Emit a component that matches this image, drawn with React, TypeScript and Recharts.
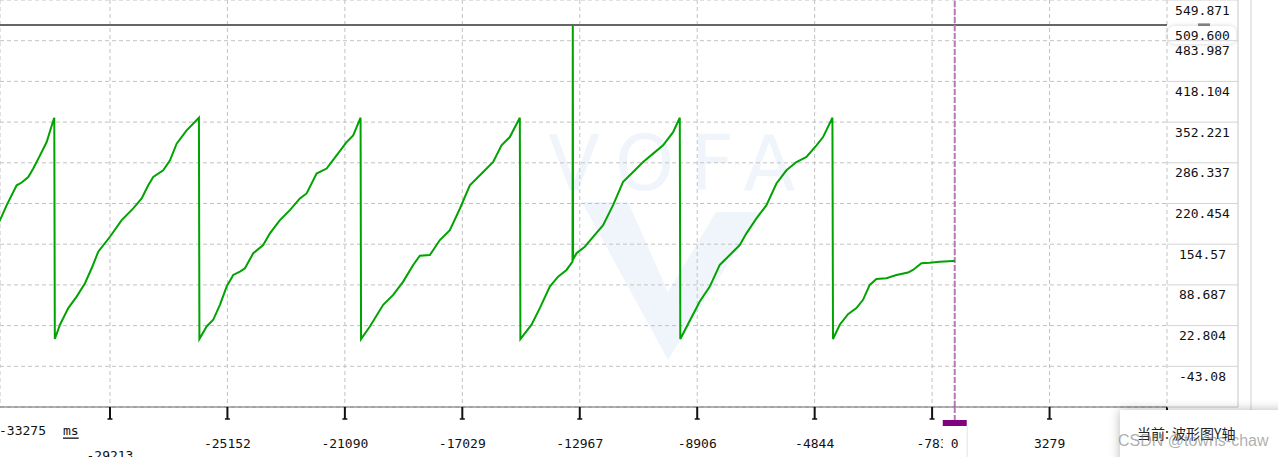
import React from "react";
import { LineChart, Line, XAxis, YAxis, CartesianGrid, ReferenceLine } from "recharts";

// ---- data (time in ms, value in Y units) ----
const TIMES: number[] = [
  -33120, -33016, -32784, -32439, -32266, -32038, -31865, -31633, -31402, -31173, -31139,
  -31120, -30942, -30655, -30365, -30077, -29846, -29618, -29213, -28809, -28408, -28117, -27889, -27716, -27371, -27137, -26907, -26562, -26137,
  -26120, -25870, -25642, -25411, -25179, -24951, -24719, -24546, -24259, -23914, -23682, -23336, -22991, -22645, -22413, -22068, -21722, -21376, -21031, -20802, -20547,
  -20530, -20225, -19765, -19419, -19074, -18728, -18497, -18151, -17805, -17460, -17114, -16768, -16308, -15962, -15673, -15386, -15040,
  -15020, -14635, -14348, -14003, -13716, -13425, -13218, -13208, -13198, -13079, -12793, -12506, -12160, -11815, -11469, -11123, -10777, -10431, -10086, -9740, -9508,
  -9490, -9163, -8817, -8471, -8126, -7780, -7434, -7203, -6857, -6511, -6166, -5820, -5474, -5128, -4782, -4554, -4230,
  -4210, -3977, -3690, -3400, -3172, -2940, -2709, -2363, -2017, -1616, -1443, -1153, -866, -520, -60, 0,
];
const VALUES: number[] = [
  184.0, 193.6, 217.8, 250.0, 254.4, 263.4, 277.0, 298.4, 319.9, 354.9, 359.3,
  1.1, 24.2, 51.1, 69.8, 91.4, 115.6, 142.4, 166.6, 193.6, 212.5, 228.6, 250.0, 263.4, 274.2, 290.4, 317.3, 338.8, 359.3,
  1.1, 21.4, 32.2, 56.4, 86.0, 104.8, 110.2, 115.6, 139.9, 153.2, 172.1, 193.6, 209.7, 228.6, 236.7, 268.9, 277.0, 298.4, 319.9, 330.7, 359.3,
  1.1, 21.4, 56.4, 72.6, 94.0, 121.0, 136.0, 137.1, 161.3, 177.4, 212.0, 250.0, 271.5, 287.6, 314.6, 328.0, 359.3,
  1.1, 24.2, 51.1, 86.0, 102.1, 112.9, 126.3, 509.6, 130.0, 139.9, 150.5, 166.6, 185.5, 217.8, 255.4, 271.5, 287.6, 301.2, 314.6, 336.0, 359.3,
  1.1, 30.6, 61.8, 86.0, 121.0, 137.1, 153.2, 172.1, 196.3, 217.8, 252.8, 274.2, 287.6, 295.7, 314.6, 328.0, 359.3,
  1.1, 24.2, 41.4, 51.1, 64.5, 88.7, 98.4, 99.5, 104.8, 108.6, 112.9, 123.7, 124.7, 126.3, 127.4, 127.5,
];
const X_TICKS: number[] = [-29213, -25152, -21090, -17029, -12967, -8906, -4844, -783, 0, 3279, 7340];
const Y_TICKS: number[] = [549.871, 483.987, 418.104, 352.221, 286.337, 220.454, 154.57, 88.687, 22.804, -43.08];
const X_DOMAIN: [number, number] = [-33016, 7340];
const Y_DOMAIN: [number, number] = [-108.959, 549.871];
const MARKER_LEVEL = 509.6;
const MARKER_LABEL = "509.600";
const X_START_LABEL = "-33275";
const X_UNIT = "ms";
const LOW_LABEL_TICK = -29213;
const CURSOR_TIME = 0;
const STATUS_TEXT = "当前: 波形图Y轴";
const WATERMARK = "CSDN @towns-chaw";

const data = TIMES.map((t, i) => ({ t, v: VALUES[i] }));

// ---- layout ----
const W = 1278;
const H = 457;
const Y_AXIS_W = 71;
const RIGHT_MARGIN = 40;
const X_AXIS_H = 50;
const PLOT_LEFT = 0;
const PLOT_RIGHT = W - RIGHT_MARGIN - Y_AXIS_W; // 1167
const PLOT_BOTTOM = H - X_AXIS_H; // 407
const MONO = "'DejaVu Sans Mono', monospace";
const PURPLE_LINE = "#bb77bb";

const XTick = (props: any) => {
  const { x, payload } = props;
  const v = payload.value;
  if (v === CURSOR_TIME) {
    return (
      <g>
        <line x1={x} x2={x} y1={PLOT_BOTTOM} y2={PLOT_BOTTOM + 13} stroke={PURPLE_LINE} strokeWidth={2} strokeDasharray="6 2" />
        <rect x={x - 12} y={PLOT_BOTTOM + 19} width={24} height={40} fill="#fff" />
        <line x1={x + 12.5} x2={x + 12.5} y1={PLOT_BOTTOM + 19} y2={H} stroke="#e4e4e4" />
        <rect x={x - 12} y={PLOT_BOTTOM + 13} width={24} height={6} fill="#800080" />
        <text x={x} y={PLOT_BOTTOM + 36} textAnchor="middle" dominantBaseline="central" fontFamily={MONO} fontSize={13} fill="#111">
          {String(v)}
        </text>
      </g>
    );
  }
  const ly = v === LOW_LABEL_TICK ? PLOT_BOTTOM + 48 : PLOT_BOTTOM + 36;
  return (
    <g>
      <line x1={x} x2={x} y1={PLOT_BOTTOM} y2={PLOT_BOTTOM + 12} stroke="#111" strokeWidth={2} />
      <line x1={x - 2.5} x2={x + 2.5} y1={PLOT_BOTTOM + 12} y2={PLOT_BOTTOM + 12} stroke="#111" strokeWidth={1.5} />
      <text x={x} y={ly} textAnchor="middle" dominantBaseline="central" fontFamily={MONO} fontSize={13} fill="#111">
        {String(v)}
      </text>
    </g>
  );
};

const YTick = (props: any) => {
  const { y, payload } = props;
  return (
    <g>
      <line x1={PLOT_RIGHT} x2={PLOT_RIGHT + Y_AXIS_W} y1={y} y2={y} stroke="#d4d4d4" />
      <text x={PLOT_RIGHT + Y_AXIS_W / 2} y={y + 10} textAnchor="middle" dominantBaseline="central" fontFamily={MONO} fontSize={13} fill="#111">
        {String(payload.value)}
      </text>
    </g>
  );
};

const MarkerLabel = (props: any) => {
  const vb = props.viewBox || {};
  const y = vb.y ?? 0;
  const x0 = (vb.x ?? 0) + (vb.width ?? 0);
  return (
    <g>
      <rect x={x0 + 31} y={y - 1.5} width={12} height={3} fill="#888" />
      <rect
        x={x0 + 1}
        y={y + 1}
        width={Y_AXIS_W - 3}
        height={18}
        rx={6}
        ry={6}
        fill="#fff"
        style={{ filter: "drop-shadow(0 0 2px rgba(0,0,0,0.18))" }}
      />
      <text x={x0 + Y_AXIS_W / 2} y={y + 10.5} textAnchor="middle" dominantBaseline="central" fontFamily={MONO} fontSize={13} fill="#111">
        {MARKER_LABEL}
      </text>
    </g>
  );
};

export default function App() {
  return (
    <div style={{ position: "absolute", left: 0, top: 0, width: W, height: H, overflow: "hidden", background: "#fff" }}>
      {/* faint logo watermark behind chart */}
      <svg width={W} height={H} style={{ position: "absolute", left: 0, top: 0 }}>
        <text x={548} y={190} fontFamily="'DejaVu Sans', sans-serif" fontSize={76} fill="#f0f5fc" letterSpacing={16}>
          VOFA
        </text>
        <polygon points="582,202 628,202 668,292 716,212 760,212 668,360" fill="#f0f5fc" />
      </svg>
      <div style={{ position: "absolute", left: 0, top: 0 }}>
        <LineChart width={W} height={H} data={data} margin={{ top: 0, right: RIGHT_MARGIN, bottom: 0, left: PLOT_LEFT }}>
          <CartesianGrid stroke="#c2c2c2" strokeDasharray="4 3" />
          <XAxis
            type="number"
            dataKey="t"
            domain={X_DOMAIN}
            ticks={X_TICKS}
            interval={0}
            allowDataOverflow
            height={X_AXIS_H}
            tickLine={false}
            axisLine={{ stroke: "#666" }}
            tick={(p: any) => <XTick {...p} />}
          />
          <YAxis
            type="number"
            orientation="right"
            domain={Y_DOMAIN}
            ticks={Y_TICKS}
            interval={0}
            allowDataOverflow
            width={Y_AXIS_W}
            axisLine={false}
            tickLine={false}
            tick={(p: any) => <YTick {...p} />}
          />
          <ReferenceLine y={MARKER_LEVEL} stroke="#666" strokeWidth={2} label={<MarkerLabel />} />
          <ReferenceLine x={CURSOR_TIME} stroke={PURPLE_LINE} strokeWidth={2} strokeDasharray="6 2" />
          <Line type="linear" dataKey="v" stroke="#00a300" strokeWidth={2} dot={false} activeDot={false} isAnimationActive={false} />
        </LineChart>
      </div>
      {/* overlay decorations */}
      <svg width={W} height={H} style={{ position: "absolute", left: 0, top: 0, pointerEvents: "none" }}>
        <line x1={PLOT_RIGHT + Y_AXIS_W} x2={PLOT_RIGHT + Y_AXIS_W} y1={0} y2={PLOT_BOTTOM} stroke="#c8c8c8" />
        <line x1={PLOT_RIGHT + Y_AXIS_W + 13} x2={PLOT_RIGHT + Y_AXIS_W + 13} y1={0} y2={H} stroke="#d2d2d2" />
        <line x1={PLOT_RIGHT} x2={PLOT_RIGHT + Y_AXIS_W} y1={PLOT_BOTTOM} y2={PLOT_BOTTOM} stroke="#c8c8c8" />
        <text x={-1} y={PLOT_BOTTOM + 23} dominantBaseline="central" fontFamily={MONO} fontSize={13} fill="#111">
          {X_START_LABEL}
        </text>
        <text x={63} y={PLOT_BOTTOM + 23} dominantBaseline="central" fontFamily={MONO} fontSize={13} fill="#111" textDecoration="underline">
          {X_UNIT}
        </text>
      </svg>
      <div
        style={{
          position: "absolute",
          left: 1120,
          top: 410,
          width: 170,
          height: 60,
          background: "#fff",
          boxShadow: "0 0 10px rgba(0,0,0,0.28)",
        }}
      />
      <div
        style={{
          position: "absolute",
          left: 1137,
          top: 423,
          fontFamily: "'Noto Sans CJK SC', sans-serif",
          fontSize: 14,
          lineHeight: "20px",
          color: "#222",
          whiteSpace: "nowrap",
        }}
      >
        {STATUS_TEXT}
      </div>
      <div
        style={{
          position: "absolute",
          left: 1118,
          top: 431,
          fontFamily: "'Liberation Sans', Arial, sans-serif",
          fontSize: 16,
          lineHeight: "20px",
          color: "rgba(120,120,120,0.6)",
          whiteSpace: "nowrap",
        }}
      >
        {WATERMARK}
      </div>
    </div>
  );
}
